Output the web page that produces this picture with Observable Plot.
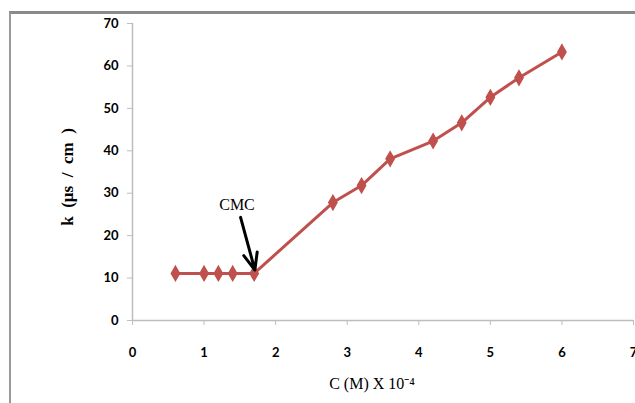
<!DOCTYPE html>
<html>
<head>
<meta charset="utf-8">
<script src="https://cdn.jsdelivr.net/npm/d3@7"></script>
<script src="https://cdn.jsdelivr.net/npm/@observablehq/plot@0.6"></script>
<style>
  html, body { margin: 0; padding: 0; background: #fff; }
  #wrap { position: relative; width: 635px; height: 403px; overflow: hidden; }
  #border { position: absolute; left: 9px; top: 11px; width: 640px; height: 400px;
            border-top: 3px solid #8a8a8a; border-left: 2px solid #9a9a9a; box-sizing: border-box; }
  #wrap svg { position: absolute; left: 0; top: 0; }
</style>
</head>
<body>
<div id="wrap"><div id="border"></div></div>
<script>
// Concentration C (M) x 10^-4
const conc = [0.6, 1.0, 1.2, 1.4, 1.7, 2.8, 3.2, 3.6, 4.2, 4.6, 5.0, 5.4, 6.0];
// Specific conductivity k (µs / cm)
const kappa = [11.1, 11.1, 11.1, 11.1, 11.1, 27.8, 31.8, 38.1, 42.3, 46.6, 52.6, 57.2, 63.3];
const xTicks = [0, 1, 2, 3, 4, 5, 6, 7];
const yTicks = [0, 10, 20, 30, 40, 50, 60, 70];
const cmcLabel = [{x: 1.46, y: 27.2, text: "CMC"}];
const cmcArrow = [{x1: 1.51, y1: 24.3, x2: 1.71, y2: 11.9}];

const data = conc.map((c, i) => ({c, k: kappa[i]}));
const red = "#C0504D";
const tickFont = "Lato, 'Open Sans', sans-serif";

const chart = Plot.plot({
  width: 635,
  height: 403,
  marginLeft: 132,
  marginRight: 2,
  marginTop: 23,
  marginBottom: 83,
  style: {background: "transparent", fontFamily: tickFont, fontSize: "13px", color: "#000"},
  x: {domain: [0, 7], label: null},
  y: {domain: [0, 70], label: null},
  marks: [
    Plot.ruleY([0], {stroke: "#bdbdbd", strokeWidth: 1.5}),
    Plot.ruleX([0], {stroke: "#bdbdbd", strokeWidth: 1.5}),
    Plot.axisX({ticks: xTicks, tickFormat: "d", tickSize: 5, tickPadding: 22, stroke: "#bdbdbd", color: "#000", fontWeight: "bold", label: null}),
    Plot.axisY({ticks: yTicks, tickFormat: "d", tickSize: 5, tickPadding: 9, stroke: "#bdbdbd", color: "#000", fontWeight: "bold", label: null}),
    Plot.line(data, {x: "c", y: "k", stroke: red, strokeWidth: 3}),
    Plot.dot(data, {x: "c", y: "k", symbol: "diamond", r: 4.3, fill: red, stroke: red, strokeWidth: 1.5}),
    Plot.arrow(cmcArrow, {x1: "x1", y1: "y1", x2: "x2", y2: "y2", stroke: "#000", strokeWidth: 3, headLength: 18, headAngle: 45}),
    Plot.text(cmcLabel, {x: "x", y: "y", text: "text", fontFamily: "'Liberation Serif', serif", fontSize: 16, fill: "#000"}),
    Plot.text(["k  (µs  /  cm  )"], {frameAnchor: "left", textAnchor: "middle", lineAnchor: "middle", dx: -65, dy: 5, rotate: -90, fontFamily: "'Liberation Serif', serif", fontWeight: "bold", fontSize: 17, fill: "#000"}),
    Plot.text(["C (M) X 10⁻⁴"], {frameAnchor: "bottom", textAnchor: "middle", lineAnchor: "middle", dx: -11, dy: 63, fontFamily: "'Liberation Serif', serif", fontSize: 16, fill: "#000"})
  ]
});
document.getElementById("wrap").appendChild(chart);
</script>
</body>
</html>
